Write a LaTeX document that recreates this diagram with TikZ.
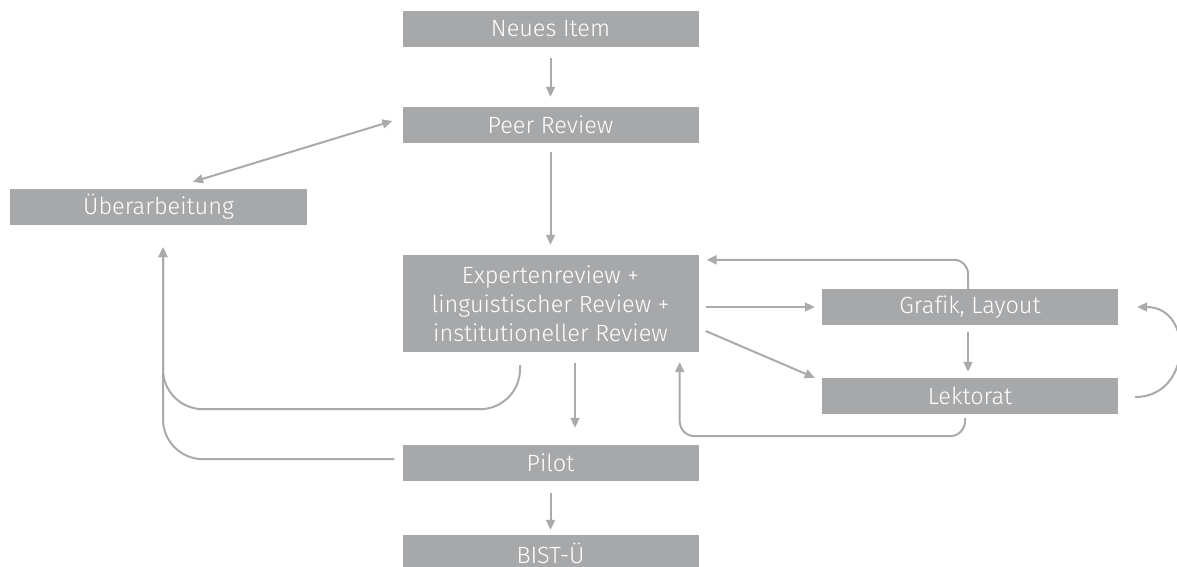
\documentclass[tikz,border=0pt]{standalone}
\usepackage{fontspec}
\setmainfont{Fira Sans Light}[Ligatures=NoCommon]
\usetikzlibrary{arrows.meta,calc}
\definecolor{boxgray}{HTML}{A7A8AA}
\definecolor{linegray}{HTML}{A9AAAC}
\tikzset{
  box/.style={fill=boxgray, draw=none, text=white, minimum width=296pt, minimum height=36pt,
    inner sep=0pt, align=center, font=\fontsize{23.5}{29}\selectfont},
  arr/.style={draw=linegray, line width=2pt, -{Triangle[length=10pt,width=9pt]}},
}
\begin{document}
\begin{tikzpicture}[x=1pt,y=-1pt]
\useasboundingbox (0,0) rectangle (1177,567);
\node[box] (neu) at (550.5,29) {Neues Item};
\node[box] (peer) at (550.5,125) {Peer Review};
\node[box, minimum width=297pt] (ueb) at (158.5,207) {Überarbeitung};
\node[box, minimum height=97pt] (exp) at (550.5,303.5) {Expertenreview +\\linguistischer Review +\\institutioneller Review};
\node[box] (graf) at (970,307) {Grafik, Layout};
\node[box] (lek) at (970,396) {Lektorat};
\node[box] (pilot) at (550.5,463) {Pilot};
\node[box] (bist) at (550.5,553) {BIST-Ü};

\draw[arr, shorten <=11pt, shorten >=10pt] (neu.south) -- (peer.north);
\draw[arr, shorten <=9pt, shorten >=10pt] (peer.south) -- (exp.north);
\draw[arr, {Triangle[length=10pt,width=9pt]}-{Triangle[length=10pt,width=9pt]}] ($(ueb.north)+(34.5,-7)$) -- ($(peer.west)+(-10,-4)$);
\draw[arr, shorten <=11pt, shorten >=17pt] ([xshift=24.5pt]exp.south) -- ([xshift=24.5pt]pilot.north);
\draw[arr, shorten <=12pt, shorten >=5pt] (pilot.south) -- (bist.north);
\draw[arr, shorten <=7pt, shorten >=7pt] (exp.east |- graf.west) -- (graf.west);
\draw[arr] ($(exp.east)+(7,27.5)$) -- ($(lek.north west)+(-7,0)$);
\draw[arr, shorten <=7pt, shorten >=6pt] ([xshift=-2pt]graf.south) -- ([xshift=-2pt]lek.north);
\draw[arr, rounded corners=14pt] ([xshift=-2pt]graf.north) |- ($(exp.north east)+(8,5)$);
\draw[arr, rounded corners=15pt] ($(lek.south)+(-5,4)$) |- ($(exp.south east)+(-19,84)$) -- ($(exp.south east)+(-19,10)$);
\draw[arr] ($(lek.east)+(17,1)$) .. controls +(57,0) and +(57,0) .. ($(graf.east)+(19,0)$);
\draw[arr, rounded corners=40pt] ($(exp.south)+(-30.5,13)$) -- ++(0,44) -- ($(ueb.south)+(4.5,184)$) -- ($(ueb.south)+(4.5,22)$);
\draw[arr, rounded corners=40pt] ($(pilot.west)+(-8,-4)$) -- ($(ueb.south)+(4.5,234)$) -- ($(ueb.south)+(4.5,22)$);
\end{tikzpicture}
\end{document}
